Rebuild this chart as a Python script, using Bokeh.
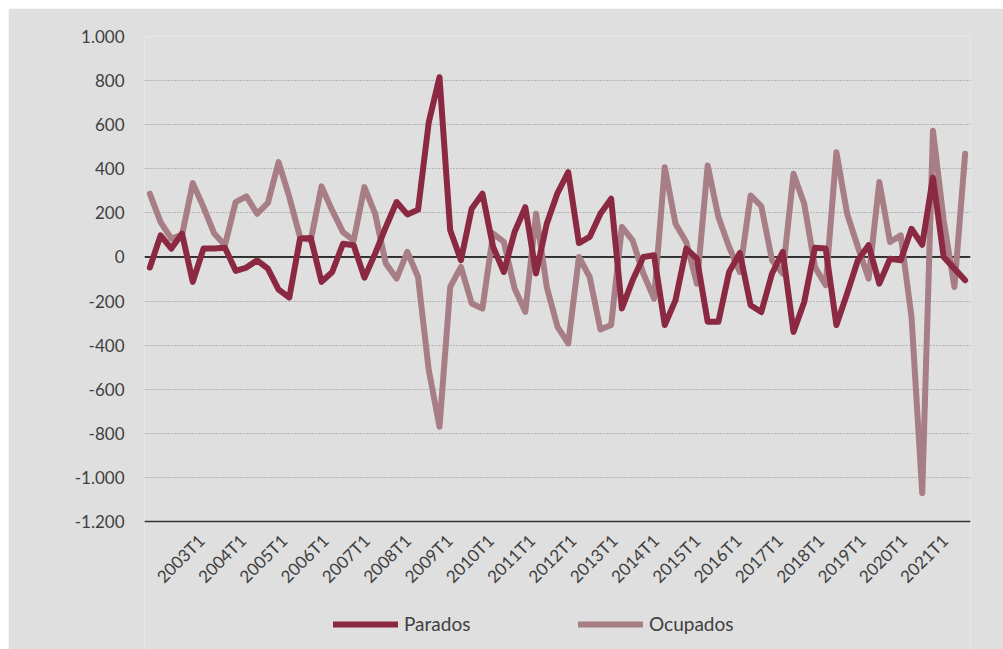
import math
from bokeh.plotting import figure
from bokeh.models import (Range1d, FixedTicker, Legend, LegendItem, Span,
                          ColumnDataSource)
from bokeh.core.properties import value
from bokeh.embed import file_html
from bokeh.resources import INLINE

# Data points: quarters 2002T2 .. 2021T2
quarters = [f"{y}T{q}" for y in range(2002, 2022) for q in range(1, 5)][1:78]

parados = [-48, 98, 38, 106, -113, 38, 38, 42, -63, -48,
           -15, -53, -148, -184, 83, 86, -113, -68, 60, 53,
           -94, 15, 136, 249, 193, 214, 611, 815, 121, -15,
           219, 287, 45, -68, 113, 226, -75, 151, 290, 385,
           63, 91, 196, 264, -234, -106, 0, 8, -309, -196,
           38, -8, -294, -294, -68, 18, -219, -250, -75, 23,
           -340, -204, 42, 38, -309, -166, -15, 53, -121, -8,
           -15, 128, 55, 360, 0, -53, -106]

ocupados = [287, 158, 83, 100, 335, 226, 106, 53, 249, 275,
            196, 245, 430, 272, 90, 75, 320, 211, 113, 75,
            317, 196, -30, -98, 23, -91, -513, -770, -136, -45,
            -211, -234, 106, 68, -143, -249, 196, -136, -317, -392,
            0, -91, -329, -309, 136, 75, -75, -189, 407, 151,
            68, -121, 415, 181, 45, -68, 279, 230, -15, -75,
            377, 241, -45, -128, 475, 196, 45, -98, 340, 68,
            98, -272, -1071, 573, 166, -136, 468]

y_ticks = [-1200, -1000, -800, -600, -400, -200, 0, 200, 400, 600, 800, 1000]
y_labels = ["-1.200", "-1.000", "-800", "-600", "-400", "-200", "0",
            "200", "400", "600", "800", "1.000"]

# category axis of the labels: 2002T1 .. 2021T4, one label per year
axis_quarters = [f"{y}T{q}" for y in range(2002, 2022) for q in range(1, 5)]
x_tick_labels = [f"{y}T1" for y in range(2003, 2022)]

idx = list(range(len(quarters)))
lab_ticks = [axis_quarters.index(lbl) for lbl in x_tick_labels]

Y_MIN, Y_MAX = y_ticks[0], y_ticks[-1]

src = ColumnDataSource(dict(x=idx, parados=parados, ocupados=ocupados, q=quarters))
lab_src = ColumnDataSource(dict(x=lab_ticks, y=[Y_MIN] * len(lab_ticks),
                                text=x_tick_labels))

BG = "#dfdfdf"
TXT = "#404040"
FONT = "Lato"

W, H = 995, 641
TOP, LEFT, RIGHT = 28, 136, 33
PLOT_H = 485                      # height of the -1200..1000 band
FRAME_H = H - TOP                 # frame runs to the bottom edge
y_low = Y_MAX - (Y_MAX - Y_MIN) * FRAME_H / PLOT_H

p = figure(width=W, height=H, output_backend="svg", toolbar_location=None,
           x_range=Range1d(-0.5, len(quarters) - 0.5),
           y_range=Range1d(y_low, Y_MAX),
           x_axis_location=None,
           min_border_left=LEFT, min_border_right=RIGHT, min_border_top=TOP,
           min_border_bottom=0)
p.margin = (8, 0, 0, 8)
p.background_fill_color = BG
p.border_fill_color = BG
p.outline_line_color = None

LAB_SHIFT = 1.02
p.extra_x_ranges = {"lab": Range1d(-0.5 - LAB_SHIFT, len(axis_quarters) - 0.5 - LAB_SHIFT)}

# grids
p.xgrid.grid_line_color = None
p.ygrid.ticker = FixedTicker(ticks=y_ticks)
p.ygrid.grid_line_color = "#8a8a8a"
p.ygrid.grid_line_dash = "1 2"
p.ygrid.grid_line_width = 1

zero = Span(location=0, dimension="width", line_color="#000000", line_width=1.5,
            level="underlay")
base = Span(location=Y_MIN, dimension="width", line_color="#333333", line_width=1.5,
            level="underlay")
p.add_layout(zero)
p.add_layout(base)

r_ocu = p.line("x", "ocupados", source=src, line_color="#a87e86", line_width=6,
               line_join="round", line_cap="round")
r_par = p.line("x", "parados", source=src, line_color="#8b2943", line_width=6,
               line_join="round", line_cap="round")

# x tick labels (rotated)
p.text(x="x", y="y", text="text", source=lab_src, x_range_name="lab",
       angle=math.pi / 4, text_align="right", text_baseline="middle",
       y_offset=16, text_font=value(FONT), text_font_size="17px",
       text_color=TXT)

# y axis
p.yaxis.ticker = FixedTicker(ticks=y_ticks)
p.yaxis.major_label_overrides = {t: l for t, l in zip(y_ticks, y_labels)}
p.yaxis.axis_line_color = None
p.yaxis.major_tick_line_color = None
p.yaxis.minor_tick_line_color = None
p.yaxis.major_tick_out = 0
p.yaxis.major_tick_in = 0
p.yaxis.major_label_standoff = 20
p.yaxis.major_label_text_font = FONT
p.yaxis.major_label_text_font_size = "17px"
p.yaxis.major_label_text_color = TXT

legend = Legend(items=[LegendItem(label="Parados", renderers=[r_par]),
                       LegendItem(label="Ocupados", renderers=[r_ocu])],
                orientation="horizontal", location=(189, 14),
                glyph_width=65, glyph_height=16, label_height=16,
                label_width=132, label_standoff=6, spacing=42,
                padding=0, margin=0, background_fill_alpha=0, border_line_alpha=0,
                label_text_font=FONT, label_text_font_size="19px",
                label_text_color=TXT)
p.add_layout(legend)

open("out.html", "w").write(file_html(p, INLINE))
